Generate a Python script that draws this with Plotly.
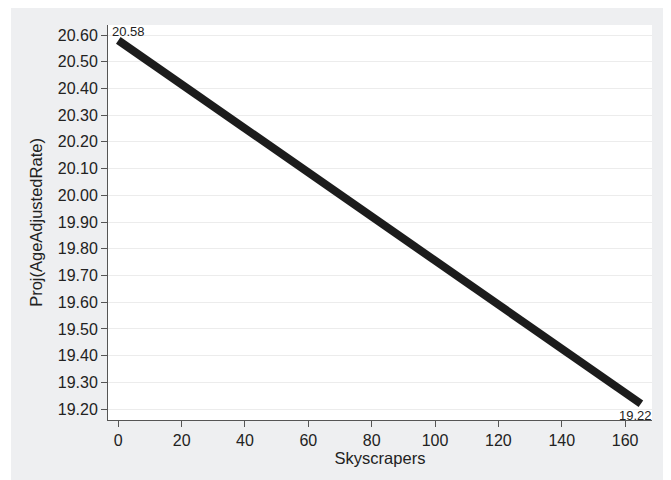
import plotly.graph_objects as go

skyscrapers = [0, 165]
proj_rate = [20.58, 19.22]
point_labels = ["20.58", "19.22"]
y_ticks = [19.2, 19.3, 19.4, 19.5, 19.6, 19.7, 19.8, 19.9, 20.0, 20.1, 20.2, 20.3, 20.4, 20.5, 20.6]
x_ticks = [0, 20, 40, 60, 80, 100, 120, 140, 160]

FONT = "Liberation Sans, Arial, Helvetica, sans-serif"
fig = go.Figure()
fig.add_trace(go.Scatter(
    x=skyscrapers, y=proj_rate, mode="lines",
    line=dict(color="#1c1c1c", width=8), showlegend=False, hoverinfo="skip"))

fig.add_annotation(x=skyscrapers[0], y=proj_rate[0], text=point_labels[0], showarrow=False,
                   xanchor="left", yanchor="bottom", xshift=-8, yshift=-1,
                   font=dict(family=FONT, size=13, color="#222"))
fig.add_annotation(x=skyscrapers[1], y=proj_rate[1], text=point_labels[1], showarrow=False,
                   xanchor="center", yanchor="top", xshift=-5, yshift=-2,
                   font=dict(family=FONT, size=13, color="#222"))

# page is offset by the 8px body margin
W, H = 663, 472
L, R, T, B = 100, 19, 17, 60
pw, ph = W - L - R, H - T - B
def px(x):
    return (x - L) / pw
def py(y):
    return (H - B - y) / ph

white_strips = [
    (px(0), px(3)),
    (px(660), px(W)),
]
for x0, x1 in white_strips:
    fig.add_shape(type="rect", xref="paper", yref="paper", x0=x0, x1=x1, y0=py(H), y1=py(0),
                  fillcolor="white", line=dict(width=0), layer="below")

fig.update_layout(
    template="none",
    width=W, height=H,
    margin=dict(l=L, r=R, t=T, b=B, autoexpand=False),
    paper_bgcolor="#eeeff1", plot_bgcolor="white",
    font=dict(family=FONT, size=16, color="#222"),
    xaxis=dict(range=[-3.25, 168.5], tickvals=x_ticks, ticks="outside", ticklen=6,
               tickcolor="#555", showline=True, linecolor="#555", linewidth=1,
               showgrid=False, zeroline=False, automargin=False,
               title=dict(text="Skyscrapers", font=dict(size=16.5), standoff=0),
               tickfont=dict(size=16)),
    yaxis=dict(range=[19.159, 20.6375], tickvals=y_ticks, tickformat=".2f",
               ticks="outside", ticklen=6, tickcolor="#555", showline=True,
               linecolor="#555", linewidth=1, showgrid=True, gridcolor="#ececec",
               gridwidth=1, zeroline=False, automargin=False,
               title=dict(text="Proj(AgeAdjustedRate)", font=dict(size=16.5), standoff=10),
               tickfont=dict(size=16)),
)
fig.write_html("out.html")
